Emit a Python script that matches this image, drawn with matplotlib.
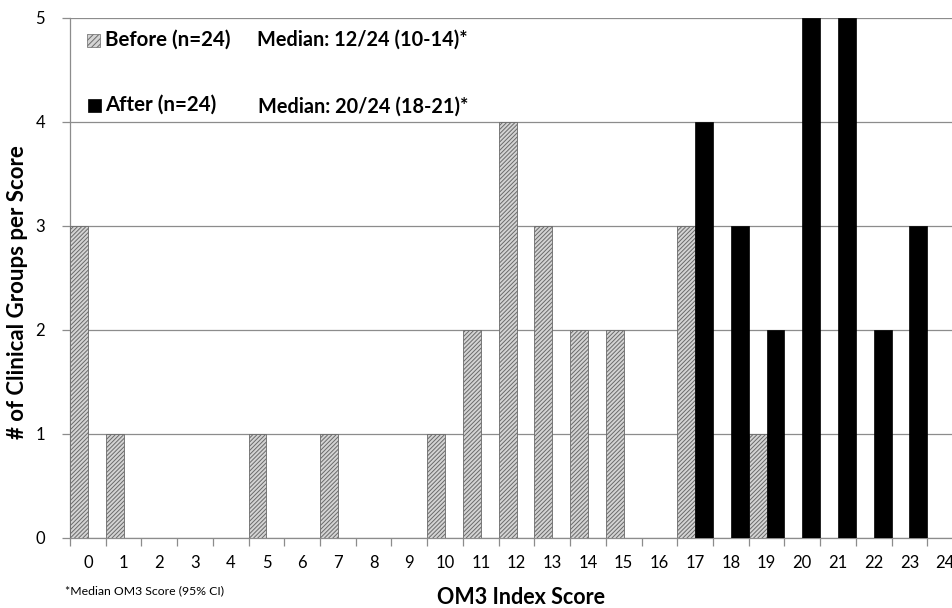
import matplotlib
matplotlib.use("Agg")
import matplotlib.pyplot as plt
from matplotlib.patches import Rectangle
import numpy as np

plt.rcParams['font.family'] = ['Lato', 'DejaVu Sans']
plt.rcParams['hatch.linewidth'] = 0.7

scores = list(range(25))
before = [3, 1, 0, 0, 0, 1, 0, 1, 0, 0, 1, 2, 4, 3, 2, 2, 0, 3, 0, 1, 0, 0, 0, 0, 0]
after = [0, 0, 0, 0, 0, 0, 0, 0, 0, 0, 0, 0, 0, 0, 0, 0, 0, 4, 3, 2, 5, 5, 2, 3, 0]

fig = plt.figure(figsize=(9.52, 6.08), dpi=100)
ax = fig.add_axes([70 / 952, 70 / 608, 893 / 952, 520 / 608])

x = np.array(scores)
ax.bar(x - 0.25, before, width=0.5, color='#d4d4d4', edgecolor='#6a6a6a',
       hatch='////////', linewidth=0.6, zorder=3)
ax.bar(x + 0.25, after, width=0.5, color='black', edgecolor='black',
       linewidth=0.5, zorder=3)

ax.set_xlim(-0.5, 24.5)
ax.set_ylim(0, 5)
ax.set_yticks(range(6))
ax.yaxis.grid(True, color='#8c8c8c', linewidth=0.9, zorder=0)
ax.set_xticks(scores)
ax.set_xticklabels([str(s) for s in scores])
ax.set_xticks(np.arange(-0.5, 25, 1), minor=True)
ax.tick_params(axis='x', which='major', length=0, pad=12, labelsize=12)
ax.tick_params(axis='x', which='minor', length=6, color='#8c8c8c', width=0.9)
ax.tick_params(axis='y', length=6, color='#8c8c8c', width=0.9, labelsize=12, pad=12)
for s in ['top', 'right']:
    ax.spines[s].set_visible(False)
for s in ['left', 'bottom']:
    ax.spines[s].set_color('#8c8c8c')
    ax.spines[s].set_linewidth(0.9)

ax.set_ylabel('# of Clinical Groups per Score', fontsize=16, fontweight='bold')
ax.yaxis.set_label_coords(-0.047, 0.473)
fig.text(521 / 952, 1 - 598 / 608, 'OM3 Index Score', fontsize=15.5, fontweight='bold',
         ha='center', va='center')
fig.text(65 / 952, 1 - 591 / 608, '*Median OM3 Score (95% CI)', fontsize=8.8,
         ha='left', va='center')

# legend-like annotations
fig.patches.append(Rectangle((87 / 952, 1 - 47 / 608), 13 / 952, 13 / 608,
                             transform=fig.transFigure, facecolor='#d4d4d4',
                             edgecolor='#6a6a6a', hatch='//////', linewidth=0.5))
fig.patches.append(Rectangle((88 / 952, 1 - 112 / 608), 13 / 952, 13 / 608,
                             transform=fig.transFigure, facecolor='black',
                             edgecolor='black', linewidth=0.5))
fig.text(105 / 952, 1 - 40 / 608, 'Before (n=24)', fontsize=14.8, fontweight='bold',
         ha='left', va='center')
fig.text(257 / 952, 1 - 40 / 608, 'Median: 12/24 (10-14)*', fontsize=14.3, fontweight='bold',
         ha='left', va='center')
fig.text(105 / 952, 1 - 105 / 608, 'After (n=24)', fontsize=14.8, fontweight='bold',
         ha='left', va='center')
fig.text(258 / 952, 1 - 107 / 608, 'Median: 20/24 (18-21)*', fontsize=14.3, fontweight='bold',
         ha='left', va='center')

fig.savefig('out.png', dpi=100)
